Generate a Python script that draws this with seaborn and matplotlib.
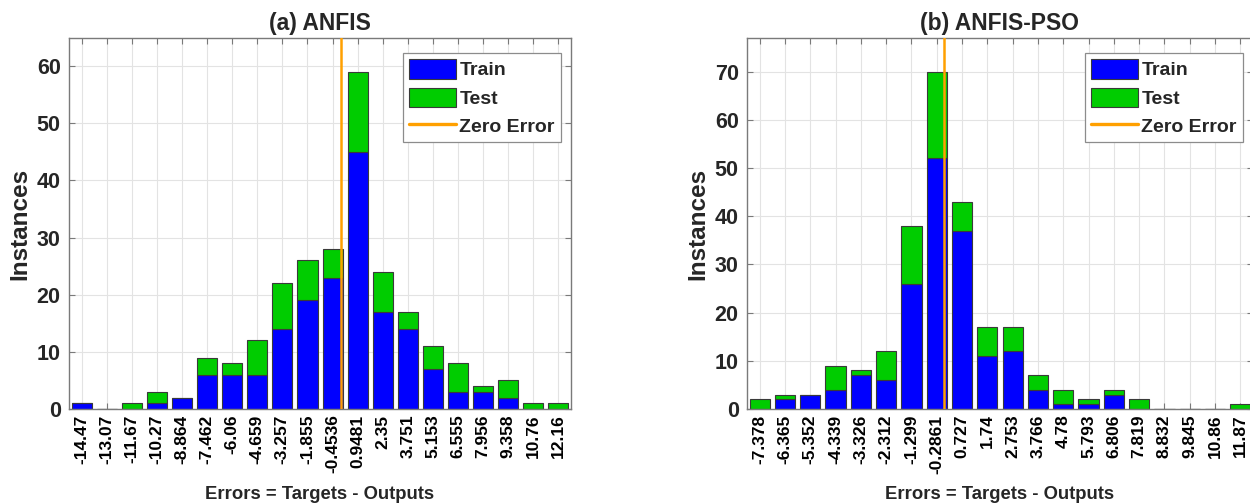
import numpy as np
import pandas as pd
import matplotlib
matplotlib.use("Agg")
import matplotlib.pyplot as plt
from matplotlib.patches import Patch
from matplotlib.lines import Line2D
import seaborn as sns

# ---------------- data ----------------
anfis_labels = ["-14.47", "-13.07", "-11.67", "-10.27", "-8.864", "-7.462", "-6.06",
                "-4.659", "-3.257", "-1.855", "-0.4536", "0.9481", "2.35", "3.751",
                "5.153", "6.555", "7.956", "9.358", "10.76", "12.16"]
anfis_train = [1, 0, 0, 1, 2, 6, 6, 6, 14, 19, 23, 45, 17, 14, 7, 3, 3, 2, 0, 0]
anfis_test = [0, 0, 1, 2, 0, 3, 2, 6, 8, 7, 5, 14, 7, 3, 4, 5, 1, 3, 1, 1]

pso_labels = ["-7.378", "-6.365", "-5.352", "-4.339", "-3.326", "-2.312", "-1.299",
              "-0.2861", "0.727", "1.74", "2.753", "3.766", "4.78", "5.793", "6.806",
              "7.819", "8.832", "9.845", "10.86", "11.87"]
pso_train = [0, 2, 3, 4, 7, 6, 26, 52, 37, 11, 12, 4, 1, 1, 3, 0, 0, 0, 0, 0]
pso_test = [2, 1, 0, 5, 1, 6, 12, 18, 6, 6, 5, 3, 3, 1, 1, 2, 0, 0, 0, 1]

titles = ["(a) ANFIS", "(b) ANFIS-PSO"]
set_names = ["Train", "Test"]

# ---------------- style ----------------
sns.set_theme(style="white")
plt.rcParams["font.family"] = ["Liberation Sans", "DejaVu Sans"]
plt.rcParams["font.weight"] = "bold"

BLUE = "#0000ff"
GREEN = "#00cc00"
ORANGE = "#ffa000"
SPINE = "#7a7a7a"

fig = plt.figure(figsize=(12.5, 5.04), dpi=100)
W, H = 1250.0, 504.0
ax_px = [(69, 571), (747, 1253)]
bottom_px, top_px = 409, 38

panels = [(anfis_labels, anfis_train, anfis_test), (pso_labels, pso_train, pso_test)]

for i, (labels, train, test) in enumerate(panels):
    x0, x1 = ax_px[i]
    ax = fig.add_axes([x0 / W, 1 - bottom_px / H, (x1 - x0) / W, (bottom_px - top_px) / H])
    centers = np.array([float(s) for s in labels])
    bw = np.mean(np.diff(centers))
    edges = np.concatenate([[centers[0] - bw / 2],
                            (centers[:-1] + centers[1:]) / 2,
                            [centers[-1] + bw / 2]])
    df = pd.DataFrame({
        "err": np.concatenate([centers, centers]),
        "count": np.concatenate([train, test]),
        "set": [set_names[0]] * len(centers) + [set_names[1]] * len(centers),
    })
    # reversed hue order so that Train sits at the bottom of each stack
    sns.histplot(data=df, x="err", weights="count", hue="set",
                 hue_order=["Test", "Train"], bins=[float(e) for e in edges],
                 multiple="stack", shrink=0.8,
                 palette={"Train": BLUE, "Test": GREEN},
                 edgecolor="#3a3a3a", linewidth=0.8, alpha=1, legend=False, ax=ax)
    ax.axvline(0, color=ORANGE, lw=1.8, zorder=5)

    totals = np.array(train) + np.array(test)
    ax.set_xlim(edges[0], edges[-1])
    ax.set_ylim(0, totals.max() * 1.1)
    ax.set_xticks(centers)
    ax.set_xticklabels(labels, rotation=90, fontsize=12.5, fontweight="bold", color="black")
    ax.set_yticks(np.arange(0, totals.max() * 1.1, 10))
    ax.tick_params(axis="y", labelsize=15.5, colors=SPINE, labelcolor="#262626", pad=6)
    ax.tick_params(axis="x", colors=SPINE, labelcolor="black", pad=4)
    ax.tick_params(direction="in", length=4, width=0.8, top=True, right=True,
                   bottom=True, left=True)
    for lab in ax.get_yticklabels():
        lab.set_fontweight("bold")
    ax.grid(True, color="#e3e3e3", lw=0.8)
    ax.set_axisbelow(True)
    for s in ax.spines.values():
        s.set_visible(True)
        s.set_color(SPINE)
        s.set_linewidth(1.0)

    ax.set_title(titles[i], fontsize=16.5, fontweight="bold", pad=6)
    ax.set_xlabel("Errors = Targets - Outputs", fontsize=13.3, fontweight="bold", labelpad=9)
    ax.set_ylabel("Instances", fontsize=17.5, fontweight="bold", color="#262626", labelpad=4)

    handles = [Patch(facecolor=BLUE, edgecolor="#3a3a3a", lw=0.8),
               Patch(facecolor=GREEN, edgecolor="#3a3a3a", lw=0.8),
               Line2D([0], [0], color=ORANGE, lw=2.4)]
    aw = x1 - x0
    ah = bottom_px - top_px
    leg = ax.legend(handles, ["Train", "Test", "Zero Error"], loc="upper right",
                    bbox_to_anchor=(1 - 10 / aw, 1 - 15 / ah), borderaxespad=0,
                    fontsize=14, frameon=True, fancybox=False, framealpha=1,
                    edgecolor="#8c8c8c", handlelength=2.45, handleheight=1.15,
                    handletextpad=0.15, labelspacing=0.42, borderpad=0.32)
    leg.get_frame().set_linewidth(0.9)
    for t in leg.get_texts():
        t.set_fontweight("bold")
    leg.set_zorder(10)

fig.savefig("out.png", dpi=100)
